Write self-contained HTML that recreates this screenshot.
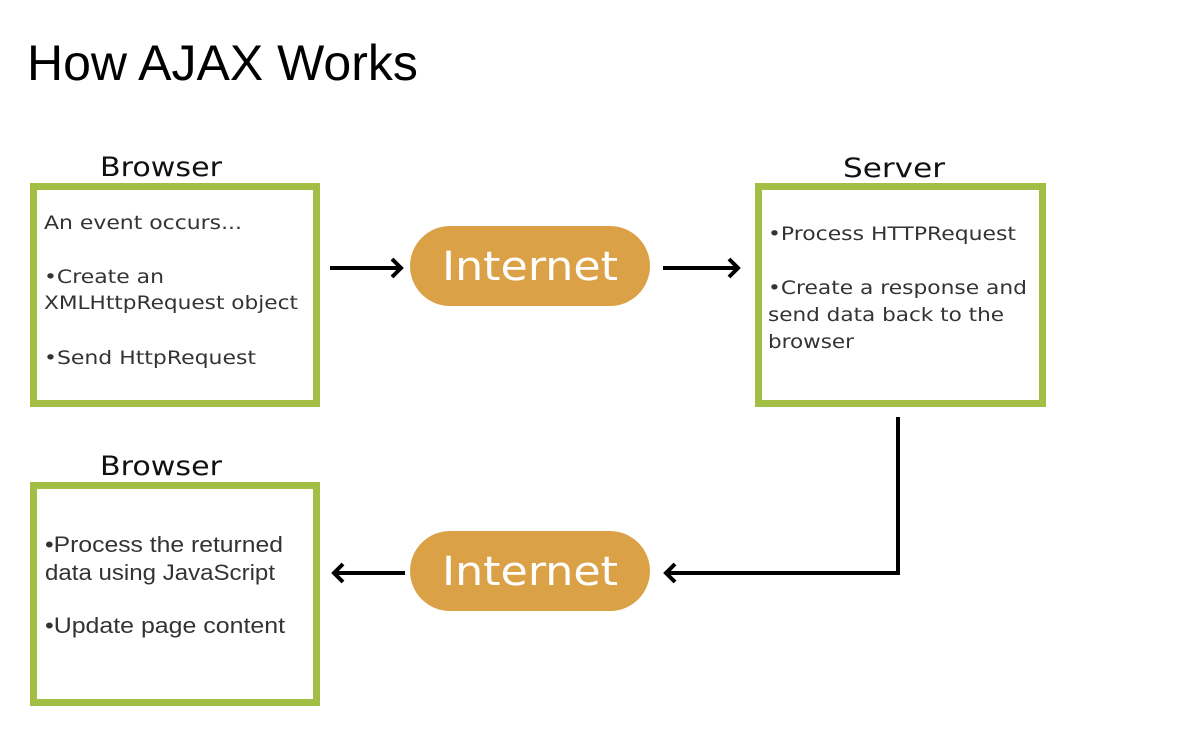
<!DOCTYPE html>
<html><head><meta charset="utf-8"><style>
html,body{margin:0;padding:0;background:#fff;width:1200px;height:736px;overflow:hidden}
svg{display:block}
.t{font-family:"DejaVu Sans",Verdana,sans-serif;fill:#333;font-size:19px}
.c{font-family:"Liberation Sans",Arial,sans-serif;fill:#333;font-size:22px}
.h{font-family:"DejaVu Sans",Verdana,sans-serif;fill:#111;font-size:27px}
.i{font-family:"DejaVu Sans",Verdana,sans-serif;fill:#fff;font-size:40px}
</style></head><body>
<svg width="1200" height="736" viewBox="0 0 1200 736" xmlns="http://www.w3.org/2000/svg">
<text x="27" y="80" font-family="Liberation Sans, Arial, sans-serif" font-size="50" fill="#000">How AJAX Works</text>

<text class="h" x="100" y="176" textLength="122" lengthAdjust="spacingAndGlyphs">Browser</text>
<text class="h" x="843" y="177" textLength="102" lengthAdjust="spacingAndGlyphs">Server</text>
<text class="h" x="100" y="475" textLength="122" lengthAdjust="spacingAndGlyphs">Browser</text>

<g fill="none" stroke="#a2be45" stroke-width="7">
<rect x="33.5" y="186.5" width="283" height="217"/>
<rect x="758.5" y="186.5" width="284" height="217"/>
<rect x="33.5" y="485.5" width="283" height="217"/>
</g>

<text class="t" x="44" y="229" textLength="198" lengthAdjust="spacingAndGlyphs">An event occurs...</text>
<text class="t" x="44" y="283" textLength="120" lengthAdjust="spacingAndGlyphs">•Create an</text>
<text class="t" x="44" y="309" textLength="254" lengthAdjust="spacingAndGlyphs">XMLHttpRequest object</text>
<text class="t" x="44" y="364" textLength="212" lengthAdjust="spacingAndGlyphs">•Send HttpRequest</text>

<text class="t" x="768" y="240" textLength="248" lengthAdjust="spacingAndGlyphs">•Process HTTPRequest</text>
<text class="t" x="768" y="294" textLength="259" lengthAdjust="spacingAndGlyphs">•Create a response and</text>
<text class="t" x="768" y="321" textLength="236" lengthAdjust="spacingAndGlyphs">send data back to the</text>
<text class="t" x="768" y="348" textLength="86" lengthAdjust="spacingAndGlyphs">browser</text>

<text class="c" x="45" y="552" textLength="238" lengthAdjust="spacingAndGlyphs">•Process the returned</text>
<text class="c" x="45" y="580" textLength="230" lengthAdjust="spacingAndGlyphs">data using JavaScript</text>
<text class="c" x="45" y="633" textLength="240" lengthAdjust="spacingAndGlyphs">•Update page content</text>

<rect x="410" y="226" width="240" height="80" rx="40" fill="#dba146"/>
<rect x="410" y="531" width="240" height="80" rx="40" fill="#dba146"/>
<text class="i" x="530" y="280" text-anchor="middle" textLength="176" lengthAdjust="spacingAndGlyphs">Internet</text>
<text class="i" x="530" y="585" text-anchor="middle" textLength="176" lengthAdjust="spacingAndGlyphs">Internet</text>

<g stroke="#000" stroke-width="4" fill="none">
<line x1="330" y1="268" x2="400" y2="268"/>
<polyline points="392,259 401,268 392,277"/>
<line x1="663" y1="268" x2="737" y2="268"/>
<polyline points="729,259 738,268 729,277"/>
<polyline points="898,417 898,573 666,573"/>
<polyline points="675,564 666,573 675,582"/>
<line x1="405" y1="573" x2="334" y2="573"/>
<polyline points="343,564 334,573 343,582"/>
</g>
</svg>
</body></html>
